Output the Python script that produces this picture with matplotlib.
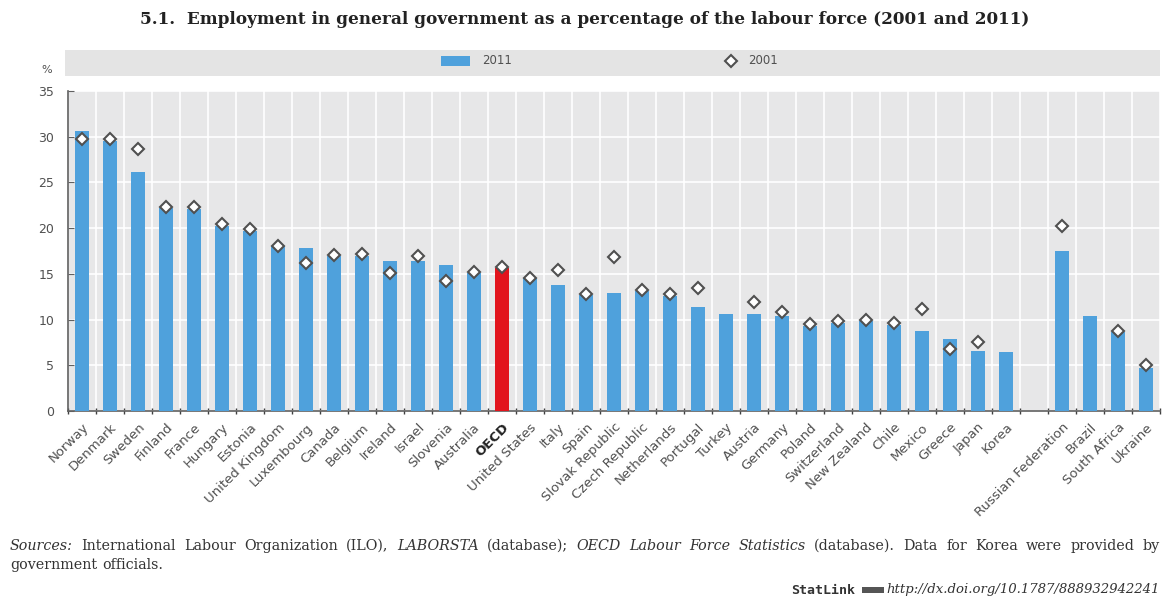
import matplotlib
matplotlib.use("Agg")
import matplotlib.pyplot as plt
import numpy as np
from matplotlib.patches import Rectangle
from matplotlib.lines import Line2D

# data (None = no value / gap slot)
countries = ["Norway", "Denmark", "Sweden", "Finland", "France", "Hungary", "Estonia",
             "United Kingdom", "Luxembourg", "Canada", "Belgium", "Ireland", "Israel",
             "Slovenia", "Australia", "OECD", "United States", "Italy", "Spain",
             "Slovak Republic", "Czech Republic", "Netherlands", "Portugal", "Turkey",
             "Austria", "Germany", "Poland", "Switzerland", "New Zealand", "Chile",
             "Mexico", "Greece", "Japan", "Korea", "",
             "Russian Federation", "Brazil", "South Africa", "Ukraine"]
val_2011 = [30.6, 29.5, 26.1, 22.2, 22.1, 20.2, 19.7, 18.0, 17.8, 16.9, 17.0, 16.4, 16.4,
            16.0, 15.1, 15.6, 14.6, 13.8, 12.7, 12.9, 13.1, 12.6, 11.4, 10.6, 10.6, 10.4,
            9.3, 9.6, 9.8, 9.4, 8.8, 7.9, 6.6, 6.4, None, 17.5, 10.4, 8.6, 4.7]
val_2001 = [29.8, 29.7, 28.7, 22.3, 22.3, 20.4, 19.9, 18.1, 16.2, 17.1, 17.2, 15.1, 16.9,
            14.2, 15.2, 15.8, 14.6, 15.4, 12.8, 16.8, 13.2, 12.8, 13.5, None, 11.9, 10.8,
            9.5, 9.8, 10.0, 9.6, 11.2, 6.8, 7.6, None, None, 20.2, None, 8.8, 5.0]
highlight = "OECD"

W, H = 1163, 598
fig = plt.figure(figsize=(W / 100, H / 100), dpi=100)
ax = fig.add_axes([68 / W, 1 - 411 / H, (1160 - 68) / W, (411 - 91) / H])

blue = "#4fa1dc"
red = "#e2141c"
panel = "#e7e7e8"
txt = "#505050"

x = np.arange(len(countries))
h11 = np.array([np.nan if v is None else v for v in val_2011])
h01 = np.array([np.nan if v is None else v for v in val_2001])
colors = [red if c == highlight else blue for c in countries]
ax.bar(x, np.nan_to_num(h11), width=0.5, color=colors, zorder=3)
ax.plot(x, h01, linestyle="none", marker="D", markersize=6.5, markerfacecolor="white",
        markeredgecolor="#505050", markeredgewidth=1.5, zorder=4)

ax.set_facecolor(panel)
ax.set_xlim(-0.5, len(countries) - 0.5)
ax.set_ylim(0, 35)
ax.set_yticks(np.arange(0, 36, 5))
ax.set_xticks(x)
ax.set_xticks(np.arange(-0.5, len(countries), 1), minor=True)
ax.grid(True, which="major", axis="y", color="white", lw=1.2, zorder=0)
ax.grid(True, which="minor", axis="x", color="white", lw=1.2, zorder=0)
for s in ["top", "right"]:
    ax.spines[s].set_visible(False)
for s in ["left", "bottom"]:
    ax.spines[s].set_color("#606060")
    ax.spines[s].set_linewidth(1.2)
ax.tick_params(axis="x", which="major", length=0, pad=7)
ax.tick_params(axis="x", which="minor", length=4, direction="inout", color="#404040", width=1)
ax.tick_params(axis="y", length=4, direction="in", color="#606060", labelcolor="#505050",
               labelsize=9, pad=10)

ax.set_xticklabels(countries, rotation=45, ha="right", rotation_mode="anchor",
                   fontsize=9.5, color=txt)
for lab in ax.get_xticklabels():
    if lab.get_text() == highlight:
        lab.set_fontweight("bold")
        lab.set_color("#222222")

# "%" unit label
fig.text(47 / W, 1 - 70 / H, "%", fontsize=8, color="#505050", ha="center", va="center")

# title
fig.text(585 / W, 1 - 20 / H,
         "5.1.  Employment in general government as a percentage of the labour force (2001 and 2011)",
         fontsize=12.2, fontweight="bold", family="DejaVu Serif", color="#222222",
         ha="center", va="center")

# legend band
fig.patches.append(Rectangle((65 / W, 1 - 76 / H), (1160 - 65) / W, 26 / H,
                             transform=fig.transFigure, facecolor="#e4e4e4",
                             edgecolor="none", zorder=0))
fig.patches.append(Rectangle((441 / W, 1 - 66 / H), 29 / W, 10 / H,
                             transform=fig.transFigure, facecolor=blue, edgecolor="none"))
fig.text(482 / W, 1 - 61 / H, "2011", fontsize=8.5, color="#505050", va="center")
fig.lines.append(Line2D([731 / W], [1 - 61 / H], transform=fig.transFigure, marker="D",
                        markersize=6, markerfacecolor="white", markeredgecolor="#505050",
                        markeredgewidth=1.5))
fig.text(748 / W, 1 - 61 / H, "2001", fontsize=8.5, color="#505050", va="center")

# footer, justified word by word
renderer = fig.canvas.get_renderer()


def justify(words, y, left, right, justified=True, size=10.3):
    arts = []
    for w, it in words:
        t = fig.text(0, y / H, w, fontsize=size, family="DejaVu Serif",
                     style="italic" if it else "normal", color="#333333", va="center")
        arts.append(t)
    widths = [a.get_window_extent(renderer).width for a in arts]
    space = 5.5
    if justified and len(arts) > 1:
        space = (right - left - sum(widths)) / (len(arts) - 1)
    pos = left
    for a, wd in zip(arts, widths):
        a.set_x(pos / W)
        pos += wd + space


line1 = [("Sources:", True), ("International", False), ("Labour", False), ("Organization", False),
         ("(ILO),", False), ("LABORSTA", True), ("(database);", False), ("OECD", True),
         ("Labour", True), ("Force", True), ("Statistics", True), ("(database).", False),
         ("Data", False), ("for", False), ("Korea", False), ("were", False),
         ("provided", False), ("by", False)]
line2 = [("government", False), ("officials.", False)]
justify(line1, H - 546, 10, 1160)
justify(line2, H - 565, 10, 1160, justified=False)

fig.text(855 / W, 1 - 590 / H, "StatLink", fontsize=9.5, fontweight="bold",
         family="DejaVu Sans Mono", color="#333333", ha="right", va="center")
fig.patches.append(Rectangle((862 / W, 1 - 593 / H), 22 / W, 6 / H,
                             transform=fig.transFigure, facecolor="#555555", edgecolor="none"))
fig.text(1160 / W, 1 - 590 / H, "http://dx.doi.org/10.1787/888932942241", fontsize=9.5,
         family="DejaVu Serif", style="italic", color="#333333", ha="right", va="center")

fig.savefig("out.png", dpi=100)
plt.close(fig)
